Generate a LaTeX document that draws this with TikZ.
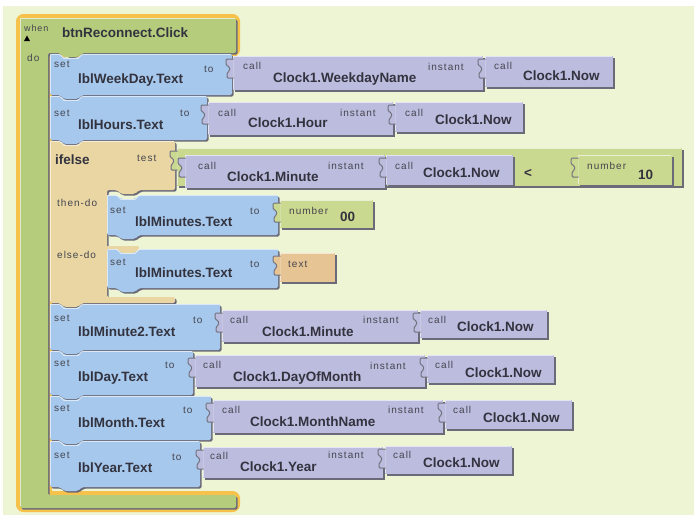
\documentclass[tikz,border=0pt]{standalone}
\usepackage{fontspec}
\setmainfont{Liberation Sans}
\newfontfamily\smfont[LetterSpace=10]{Liberation Sans}
\definecolor{bgc}{HTML}{EEF5D4}
\definecolor{bluec}{HTML}{A6C8EC}
\definecolor{purc}{HTML}{BCBCDF}
\definecolor{whenc}{HTML}{B5CC7C}
\definecolor{cmpc}{HTML}{C9D98F}
\definecolor{tanc}{HTML}{E9D6A3}
\definecolor{textc}{HTML}{E7C493}
\definecolor{orangec}{HTML}{F6C24C}
\definecolor{shadowc}{HTML}{6A6A78}
\definecolor{knobc}{HTML}{72727F}
\definecolor{txtc}{HTML}{33333F}
\definecolor{smtxtc}{HTML}{45454F}
\tikzset{
  lbl/.style={anchor=base west, inner sep=0, text=txtc, font=\fontsize{13.5}{15}\selectfont\bfseries, yshift=-4.8pt},
  sm/.style={anchor=base west, inner sep=0, text=smtxtc, font=\smfont\fontsize{10}{12}\selectfont, yshift=-3.5pt},
  tiny/.style={anchor=base west, inner sep=0, text=smtxtc, font=\smfont\fontsize{9}{11}\selectfont, yshift=-3.2pt},
}
\newcommand{\stmtblk}[5]{%
  \begin{scope}[shift={(#1,#2)}]
    \fill[shadowc, shift={(1.6,1.6)}, rounded corners=2] (0,0) -- (10,0) -- (14,4) -- (28,4) -- (32,0) -- (#3,0) -- (#3,#4) -- (32,#4) -- (28,#4+4) -- (14,#4+4) -- (10,#4) -- (0,#4) -- cycle;
    \fill[#5, rounded corners=2] (0,0) -- (10,0) -- (14,4) -- (28,4) -- (32,0) -- (#3,0) -- (#3,#4) -- (32,#4) -- (28,#4+4) -- (14,#4+4) -- (10,#4) -- (0,#4) -- cycle;
    \draw[white, opacity=.6, line width=.9] (0.5,#4-2) -- (0.5,0.5) -- (10,0.5) -- (14,4.5) -- (28,4.5) -- (32,0.5) -- (#3-1,0.5);
  \end{scope}}
\newcommand{\valblk}[5]{%
  \begin{scope}[shift={(#1,#2)}]
    \fill[shadowc, shift={(1.6,1.6)}] (0,0) rectangle (#3,#4);
    \fill[#5] (0,0) rectangle (#3,#4);
    \draw[white, opacity=.6, line width=.9] (0.5,#4-1) -- (0.5,0.5) -- (#3-1,0.5);
    \filldraw[fill=#5, draw=knobc, line width=1, rounded corners=1.2] (0.6,3) -- (-7,3) -- (-7,9) -- (-3.5,11) -- (-3.5,15) -- (-6,17) -- (-6,22) -- (0.6,22);
  \end{scope}}
\begin{document}
\begin{tikzpicture}[x=1pt,y=-1pt]
\useasboundingbox (0,0) rectangle (694,515);
\fill[white] (0,0) rectangle (694,515);
\fill[bgc] (3,6) rectangle (694,515);
% when block
\draw[orangec, line width=8, line join=round, rounded corners=3] (20,18) -- (236,18) -- (236,53) -- (78,53) -- (48,53) -- (48,495) -- (236,495) -- (236,508) -- (20,508) -- cycle;
\fill[shadowc, shift={(1.6,1.6)}, rounded corners=2] (20,18) -- (236,18) -- (236,53) -- (78,53) -- (74,57) -- (68,57) -- (64,53) -- (48,53) -- (48,495) -- (236,495) -- (236,508) -- (20,508) -- cycle;
\fill[whenc, rounded corners=2] (20,18) -- (236,18) -- (236,53) -- (82,53) -- (78,57) -- (64,57) -- (60,53) -- (48,53) -- (48,495) -- (236,495) -- (236,508) -- (20,508) -- cycle;
\draw[white, opacity=.6, line width=.9] (20.5,506) -- (20.5,18.5) -- (235,18.5);
\fill[black] (24,41) -- (30,41) -- (27,35.5) -- cycle;
\node[tiny] (when) at (24,28) {when};
\node[sm] (do) at (27,58) {do};
\node[lbl] (evt) at (62,33) {btnReconnect.Click};
% row 1
\stmtblk{50}{54}{182}{41}{bluec}
\valblk{233}{56}{250}{34}{purc}
\valblk{485}{56}{128}{31}{purc}
\node[sm] (s1) at (54,64) {set};
\node[lbl] (l1) at (78,79) {lblWeekDay.Text};
\node[sm] (t1) at (204,69) {to};
\node[sm] (c1a) at (243,66) {call};
\node[lbl] (f1a) at (273,78) {Clock1.WeekdayName};
\node[sm] (i1) at (428,67) {instant};
\node[sm] (c1b) at (494,66) {call};
\node[lbl] (f1b) at (523,76) {Clock1.Now};
% row 2
\stmtblk{50}{96}{157}{44}{bluec}
\valblk{208}{102}{185}{33}{purc}
\valblk{395}{102}{128}{30}{purc}
\node[sm] (s2) at (54,113) {set};
\node[lbl] (l2) at (78,125) {lblHours.Text};
\node[sm] (t2) at (180,113) {to};
\node[sm] (c2a) at (218,113) {call};
\node[lbl] (f2a) at (248,123) {Clock1.Hour};
\node[sm] (i2) at (340,113) {instant};
\node[sm] (c2b) at (405,113) {call};
\node[lbl] (f2b) at (435,120) {Clock1.Now};
% ifelse
\fill[shadowc, shift={(1.6,1.6)}, rounded corners=2] (50,141) -- (60,141) -- (64,145) -- (78,145) -- (82,141) -- (175,141) -- (175,190) -- (139,190) -- (135,194) -- (121,194) -- (117,190) -- (107,190) -- (107,297) -- (175,297) -- (175,303) -- (82,303) -- (78,307) -- (64,307) -- (60,303) -- (50,303) -- cycle;
\fill[tanc, rounded corners=2] (50,141) -- (60,141) -- (64,145) -- (78,145) -- (82,141) -- (175,141) -- (175,190) -- (139,190) -- (135,194) -- (121,194) -- (117,190) -- (107,190) -- (107,297) -- (175,297) -- (175,303) -- (82,303) -- (78,307) -- (64,307) -- (60,303) -- (50,303) -- cycle;
\fill[tanc, rounded corners=1] (106,246) -- (139,246) -- (139,249) -- (135,253) -- (121,253) -- (117,249) -- (106,249) -- cycle;
\draw[white, opacity=.6, line width=.9] (50.5,301) -- (50.5,141.5) -- (60,141.5) -- (64,145.5) -- (78,145.5) -- (82,141.5) -- (174,141.5);
\node[lbl] (ifl) at (55,160) {ifelse};
\node[sm] (test) at (137,158) {test};
\node[sm] (thn) at (57,203) {then-do};
\node[sm] (els) at (57,255) {else-do};
% comparison
\valblk{177}{148}{505}{38}{cmpc}
\valblk{185}{155}{200}{33}{purc}
\valblk{386}{155}{127}{30}{purc}
\valblk{578}{155}{94}{30}{cmpc}
\node[sm] (c3a) at (198,166) {call};
\node[lbl] (f3a) at (227,177) {Clock1.Minute};
\node[sm] (i3) at (328,166) {instant};
\node[sm] (c3b) at (395,166) {call};
\node[lbl] (f3b) at (423,173) {Clock1.Now};
\node[lbl] (lt) at (524,173) {<};
\node[sm] (n3) at (587,166) {number};
\node[lbl] (v3) at (638,175) {10};
% then
\stmtblk{107}{195}{171}{40}{bluec}
\valblk{280}{200}{93}{28}{cmpc}
\node[sm] (s4) at (110,210) {set};
\node[lbl] (l4) at (135,222) {lblMinutes.Text};
\node[sm] (t4) at (250,211) {to};
\node[sm] (n4) at (289,211) {number};
\node[lbl] (v4) at (340,217) {00};
% else
\stmtblk{107}{249}{171}{39}{bluec}
\valblk{280}{253}{55}{29}{textc}
\node[sm] (s5) at (110,262) {set};
\node[lbl] (l5) at (135,273) {lblMinutes.Text};
\node[sm] (t5) at (250,264) {to};
\node[sm] (x5) at (288,264) {text};
% minute2
\stmtblk{50}{304}{170}{46}{bluec}
\valblk{222}{310}{196}{32}{purc}
\valblk{420}{310}{127}{28}{purc}
\node[sm] (s6) at (54,318) {set};
\node[lbl] (l6) at (78,332) {lblMinute2.Text};
\node[sm] (t6) at (193,320) {to};
\node[sm] (c6a) at (230,320) {call};
\node[lbl] (f6a) at (262,332) {Clock1.Minute};
\node[sm] (i6) at (363,320) {instant};
\node[sm] (c6b) at (428,320) {call};
\node[lbl] (f6b) at (457,327) {Clock1.Now};
% day
\stmtblk{50}{351}{143}{44}{bluec}
\valblk{195}{355}{230}{32}{purc}
\valblk{427}{355}{127}{28}{purc}
\node[sm] (s7) at (54,363) {set};
\node[lbl] (l7) at (78,377) {lblDay.Text};
\node[sm] (t7) at (165,365) {to};
\node[sm] (c7a) at (203,365) {call};
\node[lbl] (f7a) at (233,377) {Clock1.DayOfMonth};
\node[sm] (i7) at (370,366) {instant};
\node[sm] (c7b) at (435,365) {call};
\node[lbl] (f7b) at (465,373) {Clock1.Now};
% month
\stmtblk{50}{396}{161}{44}{bluec}
\valblk{213}{400}{230}{33}{purc}
\valblk{445}{400}{127}{29}{purc}
\node[sm] (s8) at (54,408) {set};
\node[lbl] (l8) at (78,423) {lblMonth.Text};
\node[sm] (t8) at (183,410) {to};
\node[sm] (c8a) at (222,410) {call};
\node[lbl] (f8a) at (250,422) {Clock1.MonthName};
\node[sm] (i8) at (388,410) {instant};
\node[sm] (c8b) at (453,410) {call};
\node[lbl] (f8b) at (483,418) {Clock1.Now};
% year
\stmtblk{50}{441}{150}{46}{bluec}
\valblk{203}{447}{180}{31}{purc}
\valblk{385}{446}{127}{28}{purc}
\node[sm] (s9) at (54,455) {set};
\node[lbl] (l9) at (78,468) {lblYear.Text};
\node[sm] (t9) at (172,457) {to};
\node[sm] (c9a) at (210,456) {call};
\node[lbl] (f9a) at (240,467) {Clock1.Year};
\node[sm] (i9) at (328,455) {instant};
\node[sm] (c9b) at (393,455) {call};
\node[lbl] (f9b) at (423,463) {Clock1.Now};
\end{tikzpicture}
\end{document}
